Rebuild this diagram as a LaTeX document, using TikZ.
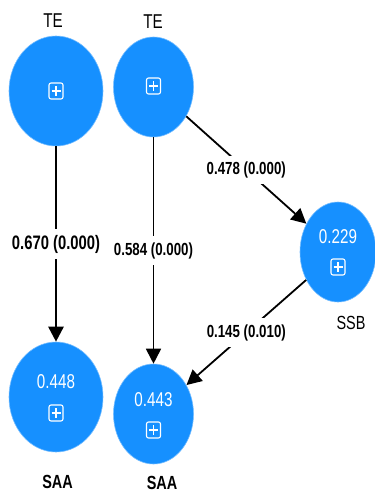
\documentclass[tikz,border=0pt]{standalone}
\usepackage{fontspec}
\setmainfont{Liberation Sans}[FakeStretch=0.76]
\usetikzlibrary{shapes.geometric,arrows.meta}
\definecolor{lvblue}{RGB}{22,144,255}
\begin{document}
\begin{tikzpicture}[x=1pt,y=-1pt,
  lv/.style={ellipse,fill=lvblue,draw=lvblue!60,line width=0.6pt,inner sep=0pt},
  val/.style={text=white,font=\fontsize{20}{22}\selectfont,inner sep=0pt},
  nm/.style={font=\fontsize{20}{22}\selectfont,inner sep=0pt},
  lbl/.style={fill=white,font=\bfseries\fontsize{17.5}{19}\selectfont,inner xsep=1pt,inner ysep=6pt},
  arr/.style={-{Triangle[length=15pt,width=15pt]},line width=1.8pt},
  plusbox/.pic={
    \draw[white,line width=1.1pt,rounded corners=2pt] (-7,-8) rectangle (7,8);
    \draw[white,line width=1.1pt] (-4.5,0)--(4.5,0) (0,-5)--(0,5);}
]
\useasboundingbox (0,0) rectangle (375,493);
% latent variables
\node[lv,minimum width=94pt,minimum height=110pt] (te1) at (56,91) {};
\node[lv,minimum width=80pt,minimum height=100pt] (te2) at (153.5,87) {};
\node[lv,minimum width=76pt,minimum height=100pt] (ssb) at (338,252) {};
\node[lv,minimum width=94pt,minimum height=110pt] (saa1) at (56,397) {};
\node[lv,minimum width=80pt,minimum height=100pt] (saa2) at (153.5,414) {};
% icons
\pic at (56,91) {plusbox};
\pic at (153.5,86) {plusbox};
\pic at (338,267) {plusbox};
\pic at (56,413) {plusbox};
\pic at (153.5,430) {plusbox};
% values
\node[val] (v1) at (338,237) {0.229};
\node[val] (v2) at (56,382) {0.448};
\node[val] (v3) at (153.5,400) {0.443};
% names
\node[nm] (n1) at (53,21) {TE};
\node[nm] (n2) at (153,21.5) {TE};
\node[nm,font=\fontsize{19}{21}\selectfont] (n3) at (351,322.5) {SSB};
\node[nm,font=\bfseries\fontsize{19}{21}\selectfont] (n4) at (57.5,482) {SAA};
\node[nm,font=\bfseries\fontsize{19}{21}\selectfont] (n5) at (162,483) {SAA};
% paths
\draw[arr,line width=2.6pt] (te1) -- node[lbl,font=\bfseries\fontsize{19.5}{21}\selectfont] (l1) {0.670 (0.000)} (saa1);
\draw[arr] (te2) -- node[lbl] (l2) {0.584 (0.000)} (saa2);
\draw[arr] (te2) -- node[lbl] (l3) {0.478 (0.000)} (ssb);
\draw[arr] (ssb) -- node[lbl] (l4) {0.145 (0.010)} (saa2);
\end{tikzpicture}
\end{document}
